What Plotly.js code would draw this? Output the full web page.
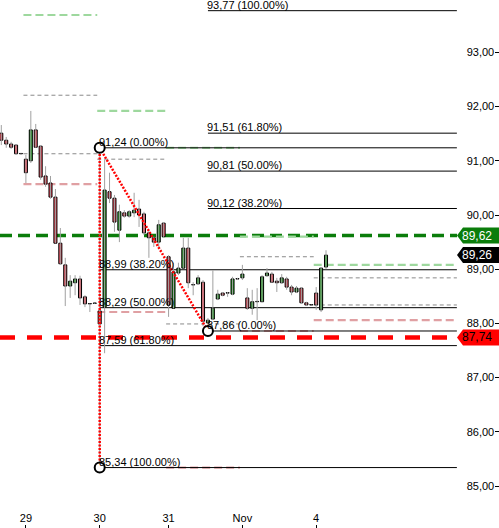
<!DOCTYPE html>
<html><head><meta charset="utf-8">
<script src="https://cdn.plot.ly/plotly-3.0.1.min.js"></script>
<style>html,body{margin:0;padding:0;background:#fff;}#chart{width:499px;height:528px;}</style>
</head><body><div id="chart"></div>
<script>
// ---- data ----
const barIndex = [0,1,2,3,4,5,6,7,8,9,10,11,12,13,14,15,16,17,18,19,20,21,22,23,24,25,26,27,28,29,30,31,32,33,34,35,36,37,38,39,40,41,42,43,44,45,46,47,48,49,50,51,52,53,54,55,56,57,58,59,60,61,62,63,64,65,66];
const openP  = [91.51,91.38,91.31,91.29,91.13,91.03,91.00,91.57,91.27,90.72,90.59,90.33,89.48,89.08,88.69,88.75,88.82,88.49,88.36,88.37,
                88.23,88.30,90.43,90.31,89.72,90.04,89.98,90.04,90.11,90.02,89.67,89.58,89.50,89.85,
                89.23,88.28,88.93,89.02,89.39,88.71,88.73,88.76,88.01,88.08,88.45,88.56,88.56,88.54,88.82,
                88.84,88.47,88.28,88.40,88.40,88.88,88.91,88.78,88.75,88.82,88.67,88.58,88.65,88.38,88.34,
                88.56,88.25,89.04];
const highP  = [91.66,91.44,91.35,91.31,91.14,91.11,91.92,91.68,91.29,90.90,90.72,90.48,89.76,89.21,88.89,88.89,88.88,88.52,88.37,88.38,
                91.24,91.02,90.78,90.37,90.19,90.09,90.09,90.41,90.28,90.06,89.72,89.60,89.91,89.86,
                89.26,89.12,89.12,89.58,89.58,88.76,88.89,88.80,88.10,88.98,88.62,88.58,88.58,88.86,88.84,
                89.08,88.65,88.62,88.65,88.89,89.02,88.95,88.84,88.91,88.86,88.71,88.69,88.67,88.40,88.35,
                88.67,89.03,89.35];
const lowP   = [91.29,91.24,91.22,91.11,91.12,90.59,90.96,91.24,90.65,90.52,90.30,89.48,89.08,88.32,88.47,88.52,88.34,88.30,88.21,88.36,
                85.34,87.45,90.22,89.69,89.50,89.95,89.95,89.96,89.78,89.63,89.21,89.41,89.41,89.59,
                88.12,88.28,88.89,89.02,88.65,88.52,88.71,87.95,87.86,88.06,88.43,88.50,88.49,88.52,88.80,
                88.80,88.25,88.16,88.06,88.40,88.86,88.75,88.58,88.73,88.62,88.52,88.56,88.36,88.32,88.33,
                88.25,88.21,89.00];
const closeP = [91.38,91.31,91.25,91.13,91.13,90.78,91.57,91.25,90.70,90.57,90.33,89.48,89.10,88.69,88.78,88.82,88.47,88.36,88.36,88.37,
                87.99,90.46,90.31,89.87,90.06,89.98,90.06,90.09,90.00,89.67,89.58,89.50,89.82,89.60,
                88.34,88.95,89.02,89.39,88.75,88.71,88.84,88.04,88.06,88.28,88.54,88.52,88.56,88.82,88.82,
                88.91,88.28,88.40,88.40,88.86,88.93,88.76,88.75,88.84,88.67,88.58,88.65,88.38,88.34,88.34,
                88.34,89.02,89.26];

// day ticks (bar index where each day starts)
const dayStartBar = [5, 20, 34, 49, 64];
const dayTickText = ['29', '30', '31', 'Nov', '4'];

// previous-day reference levels drawn during each day (days 29, 30, 31, Nov, 4)
const prevHigh  = [93.69, 91.92, 91.24, 89.60, 89.08];
const prevLow   = [90.57, 88.21, 85.34, 87.86, 88.06];
const prevOpen  = [92.21, 91.03, 87.99, 89.23, 88.84];
const prevClose = [91.13, null, null, null, 88.34];

// Fibonacci retracements
const fibRatios  = [0, 38.2, 50, 61.8, 100];
const fib1Levels = [91.24, 88.99, 88.29, 87.59, 85.34];
const fib1Bar = 20;
const fib2Levels = [87.86, 90.12, 90.81, 91.51, 93.77];
const fib2Bar = 42;

// horizontal price markers
const resistanceLevel = 89.62;
const supportLevel = 87.74;
const lastPrice = closeP[closeP.length - 1];

// ---- drawing ----
const fmt = v => v.toFixed(2).replace('.', ',');
const RIGHT = 92.6;        // x where the level lines stop
const TIP = 457 / 499, BOXL = 463 / 499;

const RED = '#f24555', GREEN = '#1e9a1e';
const bodyColor = barIndex.map((_, i) => closeP[i] > openP[i] ? GREEN : (closeP[i] < openP[i] ? RED : '#000'));
const bodyBase = barIndex.map((_, i) => Math.min(openP[i], closeP[i]));
const bodyLen = barIndex.map((_, i) => Math.max(Math.abs(closeP[i] - openP[i]), 0.006));

const wx = [], wy = [];
barIndex.forEach((k, i) => { wx.push(k, k, null); wy.push(lowP[i], highP[i], null); });

const traces = [
  {type: 'scatter', mode: 'lines', x: wx, y: wy, line: {color: '#a0a0a0', width: 1}, hoverinfo: 'skip'},
  {type: 'bar', x: barIndex, base: bodyBase, y: bodyLen, width: 0.62,
   marker: {color: bodyColor, line: {color: '#000', width: 1}}, hoverinfo: 'skip'},
  {type: 'scatter', mode: 'lines',
   x: [fib1Bar, fib1Bar, null, fib1Bar, fib2Bar],
   y: [fib1Levels[4], fib1Levels[0], null, fib1Levels[0], fib2Levels[0]],
   line: {color: '#ff0000', width: 2.5, dash: '2px,1.5px'}, hoverinfo: 'skip'},
  {type: 'scatter', mode: 'markers',
   x: [fib1Bar, fib1Bar, fib2Bar], y: [fib1Levels[0], fib1Levels[4], fib2Levels[0]],
   marker: {size: 10, color: '#fff', line: {color: '#000', width: 2}}, hoverinfo: 'skip'}
];

const shapes = [];
const annotations = [];
function seg(x0, x1, y, color, width, dash) {
  shapes.push({type: 'line', xref: 'x', yref: 'y', x0, x1, y0: y, y1: y, layer: 'below',
               line: {color, width, dash}});
}
dayStartBar.forEach((s, d) => {
  const x0 = s - 0.5;
  const x1 = d < dayStartBar.length - 1 ? dayStartBar[d + 1] - 0.5 : RIGHT;
  seg(x0, x1, prevOpen[d], '#8a8a8a', 1, '4px,3px');
  if (prevClose[d] !== null) seg(x0, x1, prevClose[d], '#8a8a8a', 1, '4px,3px');
  seg(x0, x1, prevHigh[d], '#9ed89e', 2.2, '8px,4px');
  seg(x0, x1, prevLow[d], '#e0a0a3', 2.2, '8px,4px');
});
function fib(levels, bar) {
  levels.forEach((v, i) => {
    shapes.push({type: 'line', xref: 'x', yref: 'y', x0: bar, x1: RIGHT, y0: v, y1: v, layer: 'below',
                 line: {color: '#000', width: 1}});
    annotations.push({xref: 'x', yref: 'y', x: bar, y: v, xanchor: 'left', yanchor: 'bottom',
                      text: fmt(v) + ' (' + fibRatios[i].toFixed(2) + '%)', showarrow: false,
                      font: {family: 'Arial, Liberation Sans, sans-serif', size: 11, color: '#000'},
                      borderpad: 0, yshift: -1, xshift: -2});
  });
}
fib(fib1Levels, fib1Bar);
fib(fib2Levels, fib2Bar);

shapes.push({type: 'line', xref: 'paper', yref: 'y', x0: 0, x1: TIP, y0: resistanceLevel, y1: resistanceLevel,
             layer: 'below', line: {color: '#0b7d0b', width: 3.5, dash: '12px,6px'}});
shapes.push({type: 'line', xref: 'paper', yref: 'y', x0: 0, x1: TIP, y0: supportLevel, y1: supportLevel,
             layer: 'below', line: {color: '#ff0000', width: 4.5, dash: '15px,12px'}});

function tag(v, fill, textColor) {
  shapes.push({type: 'path', xref: 'paper', yref: 'y', ysizemode: 'pixel', yanchor: v, layer: 'above',
               path: `M ${TIP} 0 L ${BOXL} 8 L 1 8 L 1 -8 L ${BOXL} -8 Z`,
               fillcolor: fill, line: {width: 0}});
  annotations.push({xref: 'paper', yref: 'y', x: 1, y: v, xanchor: 'right', yanchor: 'middle', xshift: -5,
                    text: fmt(v), showarrow: false,
                    font: {family: 'Arial, Liberation Sans, sans-serif', size: 12, color: textColor}});
}
tag(resistanceLevel, '#0b7d0b', '#fff');
tag(lastPrice, '#000', '#fff');
tag(supportLevel, '#ff0000', '#000');

const yTicks = [85, 86, 87, 88, 89, 90, 91, 92, 93, 94];

const layout = {
  width: 499, height: 528,
  margin: {l: 0, r: 0, t: 0, b: 0, pad: 0},
  paper_bgcolor: '#fff', plot_bgcolor: '#fff',
  showlegend: false, hovermode: false, dragmode: false,
  separators: ',.',
  font: {family: 'Arial, Liberation Sans, sans-serif', size: 11, color: '#000'},
  xaxis: {range: [-0.264, 101.16], showgrid: false, zeroline: false, showline: false,
          tickmode: 'array', tickvals: dayStartBar, ticktext: dayTickText,
          ticks: 'inside', ticklen: 3, tickcolor: '#000', ticklabelposition: 'inside',
          tickfont: {size: 11, color: '#000'}},
  yaxis: {range: [84.225, 93.967], side: 'right', showgrid: false, zeroline: false, showline: false,
          tickmode: 'array', tickvals: yTicks, ticktext: yTicks.map(fmt),
          ticks: 'inside', ticklen: 4, tickcolor: '#000', ticklabelposition: 'inside',
          tickfont: {size: 11, color: '#000'}},
  bargap: 0,
  shapes, annotations
};

Plotly.newPlot('chart', traces, layout, {staticPlot: true, displayModeBar: false});
</script>
</body></html>
